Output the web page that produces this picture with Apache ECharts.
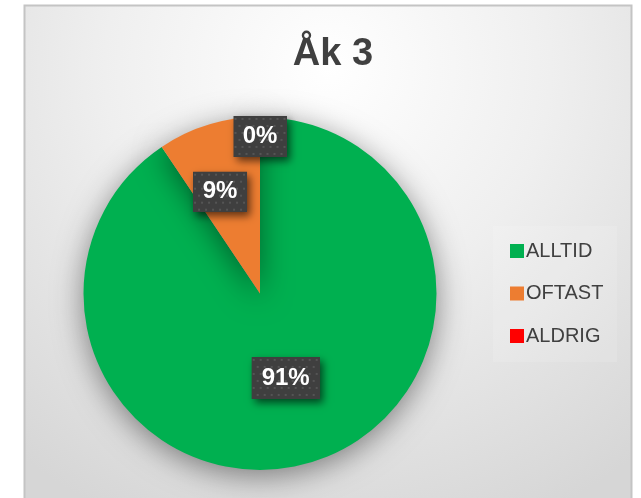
<!DOCTYPE html>
<html>
<head>
<meta charset="utf-8">
<script src="https://cdn.jsdelivr.net/npm/echarts@6/dist/echarts.min.js"></script>
<style>
html,body{margin:0;padding:0;background:#fff;}
#chart{width:641px;height:498px;}
</style>
</head>
<body>
<div id="chart"></div>
<script>
const titleText = 'Åk 3';
const categories = ['ALLTID', 'OFTAST', 'ALDRIG'];
const values = [90.6, 9.4, 0];
const colors = ['#00b050', '#ed7d31', '#ff0000'];

const CX = 260, CY = 293.5, R = 176.5;
const labelRadial = [0.5, 0.62, 0.89];
const labelAngleShift = [0, -4.5, 0];
const labelBox = [[68, 42], [54, 40], [53, 41]];

function patternCanvas(w, h) {
  const c = document.createElement('canvas');
  c.width = w; c.height = h;
  const g = c.getContext('2d');
  g.fillStyle = '#3f3f3f';
  g.fillRect(0, 0, w, h);
  g.fillStyle = '#555555';
  let row = 0;
  for (let y = 2; y < h; y += 7, row++) {
    for (let x = (row % 2 ? 5 : 1); x < w; x += 7) {
      g.fillRect(x, y, 2, 2);
    }
  }
  return c;
}

const total = values.reduce((a, b) => a + b, 0);
const midAngles = [];
let acc = 0;
values.forEach(v => { midAngles.push((acc + v / 2) / total * 360); acc += v; });

const chart = echarts.init(document.getElementById('chart'), null, {renderer: 'canvas'});

const data = categories.map((name, i) => ({
  name: name,
  value: values[i],
  itemStyle: {color: colors[i]},
  label: {
    rich: {
      p: {
        width: labelBox[i][0],
        height: labelBox[i][1],
        lineHeight: labelBox[i][1],
        align: 'center',
        fontFamily: 'Liberation Sans, Arial, sans-serif',
        fontSize: 24,
        fontWeight: 'bold',
        color: '#ffffff',
        backgroundColor: {image: patternCanvas(labelBox[i][0], labelBox[i][1])}
      }
    }
  }
}));

chart.setOption({
  animation: false,
  graphic: [{
    type: 'rect',
    shape: {x: 24.5, y: 5.5, width: 607, height: 520},
    style: {
      fill: new echarts.graphic.RadialGradient(0.5, 0.12, 0.95, [
        {offset: 0, color: '#ffffff'},
        {offset: 0.45, color: '#efefef'},
        {offset: 1, color: '#d6d6d6'}
      ]),
      stroke: '#c4c4c4',
      lineWidth: 2
    },
    z: -10
  }, {
    type: 'rect',
    shape: {x: 493, y: 226, width: 124, height: 136},
    style: {fill: 'rgba(255,255,255,0.12)'},
    z: -9
  }],
  title: {
    text: titleText,
    left: 328,
    textAlign: 'center',
    top: 31,
    textStyle: {
      fontFamily: 'Liberation Sans, Arial, sans-serif',
      fontSize: 38,
      fontWeight: 'bold',
      color: '#404040'
    }
  },
  legend: {
    orient: 'vertical',
    left: 505,
    top: 236,
    itemWidth: 14,
    itemHeight: 14,
    itemGap: 22.5,
    icon: 'rect',
    data: categories,
    textStyle: {
      fontFamily: 'Liberation Sans, Arial, sans-serif',
      fontSize: 20,
      color: '#404040',
      padding: [0, 0, 0, -3]
    }
  },
  series: [{
    type: 'pie',
    center: [CX, CY],
    radius: [0, R],
    startAngle: 90,
    clockwise: true,
    avoidLabelOverlap: false,
    stillShowZeroSum: true,
    itemStyle: {
      shadowBlur: 30,
      shadowColor: 'rgba(0,0,0,0.45)',
      shadowOffsetY: 6
    },
    emphasis: {disabled: true},
    label: {
      show: true,
      position: 'inside',
      formatter: p => '{p|' + Math.round(p.value / total * 100) + '%}',
      fontFamily: 'Liberation Sans, Arial, sans-serif',
      fontSize: 24,
      fontWeight: 'bold',
      color: '#ffffff',
      align: 'center',
      verticalAlign: 'middle',
      padding: 0,
      backgroundColor: '#3f3f3f',
      shadowColor: 'rgba(0,0,0,0.6)',
      shadowBlur: 8,
      shadowOffsetX: 3,
      shadowOffsetY: 4
    },
    labelLine: {show: false},
    labelLayout: function (params) {
      const i = params.dataIndex;
      const a = (midAngles[i] + labelAngleShift[i]) * Math.PI / 180;
      const r = R * labelRadial[i];
      return {x: CX + r * Math.sin(a), y: CY - r * Math.cos(a), align: 'center', verticalAlign: 'middle'};
    },
    data: data
  }]
});
</script>
</body>
</html>
